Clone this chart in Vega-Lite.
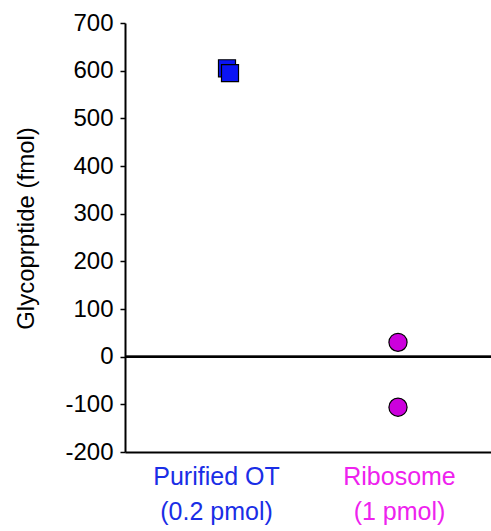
{
  "$schema": "https://vega.github.io/schema/vega-lite/v6.json",
  "autosize": "none",
  "width": 366,
  "height": 429,
  "padding": {"left": 125, "top": 23, "right": 0, "bottom": 79},
  "background": "white",
  "config": {
    "view": {"stroke": null},
    "font": "Liberation Sans",
    "axis": {"grid": false, "domainColor": "black", "tickColor": "black", "labelColor": "black", "titleColor": "black", "titleFontWeight": "normal"}
  },
  "data": {
    "values": [
      {"group": "Purified OT|(0.2 pmol)", "rep": "OT-1", "glyco": 605},
      {"group": "Purified OT|(0.2 pmol)", "rep": "OT-2", "glyco": 595},
      {"group": "Ribosome|(1 pmol)", "rep": "Rib", "glyco": 30},
      {"group": "Ribosome|(1 pmol)", "rep": "Rib", "glyco": -106}
    ]
  },
  "encoding": {
    "x": {
      "field": "group", "type": "nominal", "sort": ["Purified OT|(0.2 pmol)", "Ribosome|(1 pmol)"],
      "scale": {"domain": ["Purified OT|(0.2 pmol)", "Ribosome|(1 pmol)"], "paddingInner": 0, "paddingOuter": 0},
      "axis": {
        "title": null, "orient": "bottom", "ticks": false, "labelAngle": 0,
        "domainWidth": 2, "labelFontSize": 25, "labelPadding": 12, "labelLineHeight": 35,
        "labelExpr": "split(datum.label, '|')",
        "labelColor": {"condition": {"test": "indexof(datum.label, 'Purified') >= 0", "value": "#1a2ee6"}, "value": "#ee22ee"}
      }
    },
    "y": {
      "field": "glyco", "type": "quantitative",
      "scale": {"domain": [-200, 700], "nice": false, "zero": false},
      "axis": {
        "title": "Glycoprptide (fmol)", "values": [-200, -100, 0, 100, 200, 300, 400, 500, 600, 700],
        "labelExpr": "datum.value < 0 ? '-' + abs(datum.value) : '' + datum.value",
        "domainWidth": 2, "tickWidth": 1.5, "tickSize": 5, "labelFontSize": 24, "labelPadding": 7,
        "titleFontSize": 24, "titleX": -87, "titleY": 205
      }
    }
  },
  "layer": [
    {
      "mark": {"type": "rule", "color": "black", "strokeWidth": 2},
      "encoding": {"x": null, "y": {"datum": 0, "type": "quantitative"}}
    },
    {
      "transform": [{"filter": "datum.rep != 'Rib'"}],
      "mark": {"type": "point", "shape": "square", "filled": true, "fill": "#0a14f5", "stroke": "black", "strokeWidth": 1.2, "opacity": 1, "size": 290},
      "encoding": {
        "xOffset": {"field": "rep", "type": "nominal", "scale": {"type": "band", "domain": ["OT-1", "OT-2"], "range": [100.5, 106.5]}}
      }
    },
    {
      "transform": [{"filter": "datum.rep == 'Rib'"}],
      "mark": {"type": "point", "shape": "circle", "filled": true, "fill": "#cc00dd", "stroke": "black", "strokeWidth": 1.2, "opacity": 1, "size": 330},
      "encoding": {
        "xOffset": {"field": "rep", "type": "nominal", "scale": {"type": "band", "domain": ["Rib"], "range": [89, 91]}}
      }
    }
  ],
  "resolve": {"scale": {"xOffset": "independent"}}
}
